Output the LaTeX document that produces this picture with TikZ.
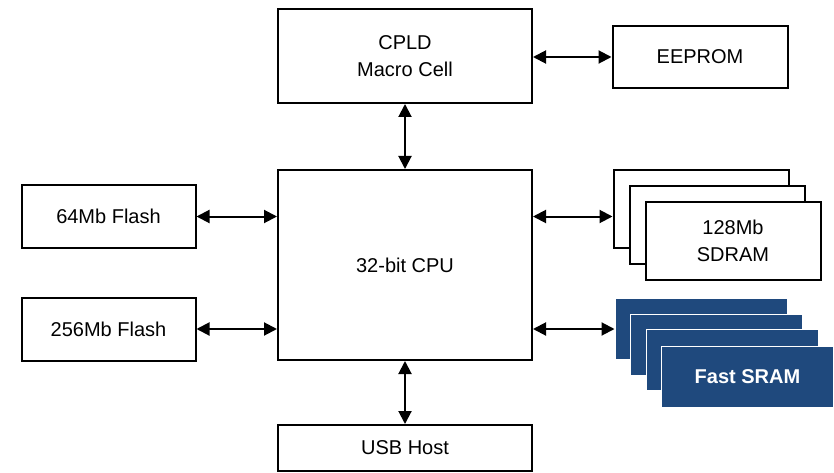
\documentclass[tikz,border=0pt]{standalone}
\usepackage{fontspec}
\setmainfont{Liberation Sans}
\usetikzlibrary{arrows.meta}
\definecolor{sramblue}{RGB}{31,73,125}
\tikzset{
  blk/.style={draw,line width=2pt,fill=white,align=center,inner sep=0pt,
    font=\fontsize{20}{27}\selectfont},
  sram/.style={draw=white,line width=1pt,fill=sramblue,inner sep=0pt,
    minimum width=172pt,minimum height=61pt},
  link/.style={line width=2pt,{Triangle[length=13pt,width=13pt]}-{Triangle[length=13pt,width=13pt]}}
}
\begin{document}
\begin{tikzpicture}[x=1pt,y=-1pt]
	    \useasboundingbox (0,0) rectangle (834,473);
	    \node[blk,minimum width=254pt,minimum height=94pt](cpld) at (405,56){CPLD\\Macro Cell};
	    \node[blk,minimum width=175pt,minimum height=62pt](eeprom) at (700,57){EEPROM};
	    \node[blk,minimum width=254pt,minimum height=190pt](cpu) at (405,265){32-bit CPU};
	    \node[blk,minimum width=254pt,minimum height=46pt](usb) at (405,448){USB Host};
	    \node[blk,minimum width=174pt,minimum height=63pt](fa) at (108.5,216.5){64Mb Flash};
	    \node[blk,minimum width=174pt,minimum height=63pt](fb) at (108.5,329){256Mb Flash};
	    % SDRAM stack
	    \node[blk,minimum width=175pt,minimum height=78pt](sdramA) at (701,209){};
	    \node[blk,minimum width=175pt,minimum height=78pt](sdramB) at (717,225){};
	    \node[blk,minimum width=175pt,minimum height=78pt](sdramC) at (733,241){128Mb\\SDRAM};
	    % SRAM stack
	    \node[sram](sramA) at (701,329){};
	    \node[sram](sramB) at (716.5,344.5){};
	    \node[sram](sramC) at (732,360){};
	    \node[sram,text=white,font=\fontsize{20}{27}\selectfont\bfseries](sramD) at (747.5,376.5){Fast SRAM};
	    % links
	    \draw[link](cpld.east|-eeprom.west)--(eeprom.west);
	    \draw[link](cpld.south)--(cpu.north);
	    \draw[link](cpu.south)--(usb.north);
	    \draw[link](fa.east)--(cpu.west|-fa.east);
	    \draw[link](fb.east)--(cpu.west|-fb.east);
	    \draw[link](cpu.east|-fa.east)--(sdramA.west|-fa.east);
	    \draw[link](cpu.east|-fb.east)--(sramA.west|-fb.east);
\end{tikzpicture}
\end{document}
